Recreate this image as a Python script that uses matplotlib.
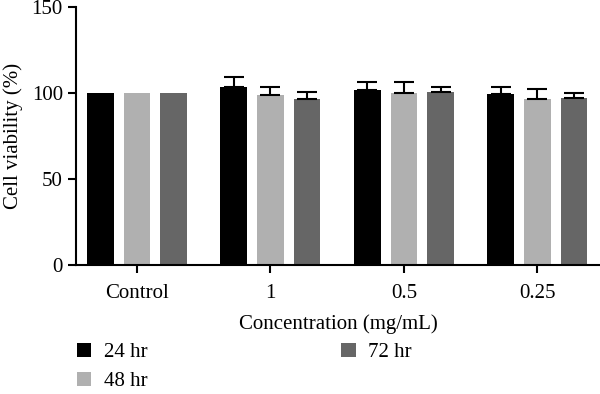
import numpy as np
import matplotlib

matplotlib.use("Agg")
from matplotlib import pyplot as plt

groups = ["Control", "1", "0.5", "0.25"]
series = ["24 hr", "48 hr", "72 hr"]
colors = ["#000000", "#b0b0b0", "#666666"]

viability_24 = [100.2, 103.3, 101.7, 99.4]
viability_48 = [100.2, 98.8, 100.2, 96.3]
viability_72 = [100.2, 96.3, 100.4, 96.9]
sd_24 = [0.0, 6.2, 4.7, 4.1]
sd_48 = [0.0, 4.5, 6.2, 6.2]
sd_72 = [0.0, 4.5, 3.1, 2.9]

values = [viability_24, viability_48, viability_72]
errors = [sd_24, sd_48, sd_72]

plt.rcParams["font.family"] = ["Liberation Serif", "DejaVu Serif"]

fig = plt.figure(figsize=(6.0, 3.94), dpi=100)
ax = fig.add_axes([0.1267, 0.3274, 0.8733, 0.6546])

x = np.arange(len(groups))
width = 0.2
step = 0.275
for i, (name, vals, errs, color) in enumerate(zip(series, values, errors, colors)):
    pos = x + (i - 1) * step
    ax.bar(pos, vals, width=width, color=color, label=name, zorder=2)
    vals = np.asarray(vals)
    errs = np.asarray(errs)
    has_err = errs > 0
    ax.errorbar(pos[has_err], vals[has_err],
                yerr=[np.zeros(has_err.sum()), errs[has_err]], fmt="none",
                ecolor="black", elinewidth=1.5, capsize=7, capthick=1.5, zorder=3)

ax.set_xlim(-0.4575, 3.47)
ax.set_ylim(0, 150)
ax.set_yticks([0, 50, 100, 150])
ax.set_xticks(x)
ax.set_xticklabels(groups)
ax.spines["top"].set_visible(False)
ax.spines["right"].set_visible(False)
for side in ("left", "bottom"):
    ax.spines[side].set_linewidth(1.5)
ax.tick_params(axis="both", width=1.5, length=6, labelsize=15)
ax.tick_params(axis="x", pad=8)
ax.set_xlabel("Concentration (mg/mL)", fontsize=15, labelpad=8)
ax.set_ylabel("Cell viability (%)", fontsize=15, labelpad=6)

handles, labels = ax.get_legend_handles_labels()
fig.legend(handles, labels, ncol=2, loc="upper left", bbox_to_anchor=(0.128, 0.13),
           frameon=False, fontsize=15, handlelength=0.7, handleheight=0.7,
           handletextpad=0.6, columnspacing=9.3, labelspacing=0.45,
           borderpad=0.0, borderaxespad=0.0)

fig.savefig("out.png", dpi=100)
plt.close(fig)
